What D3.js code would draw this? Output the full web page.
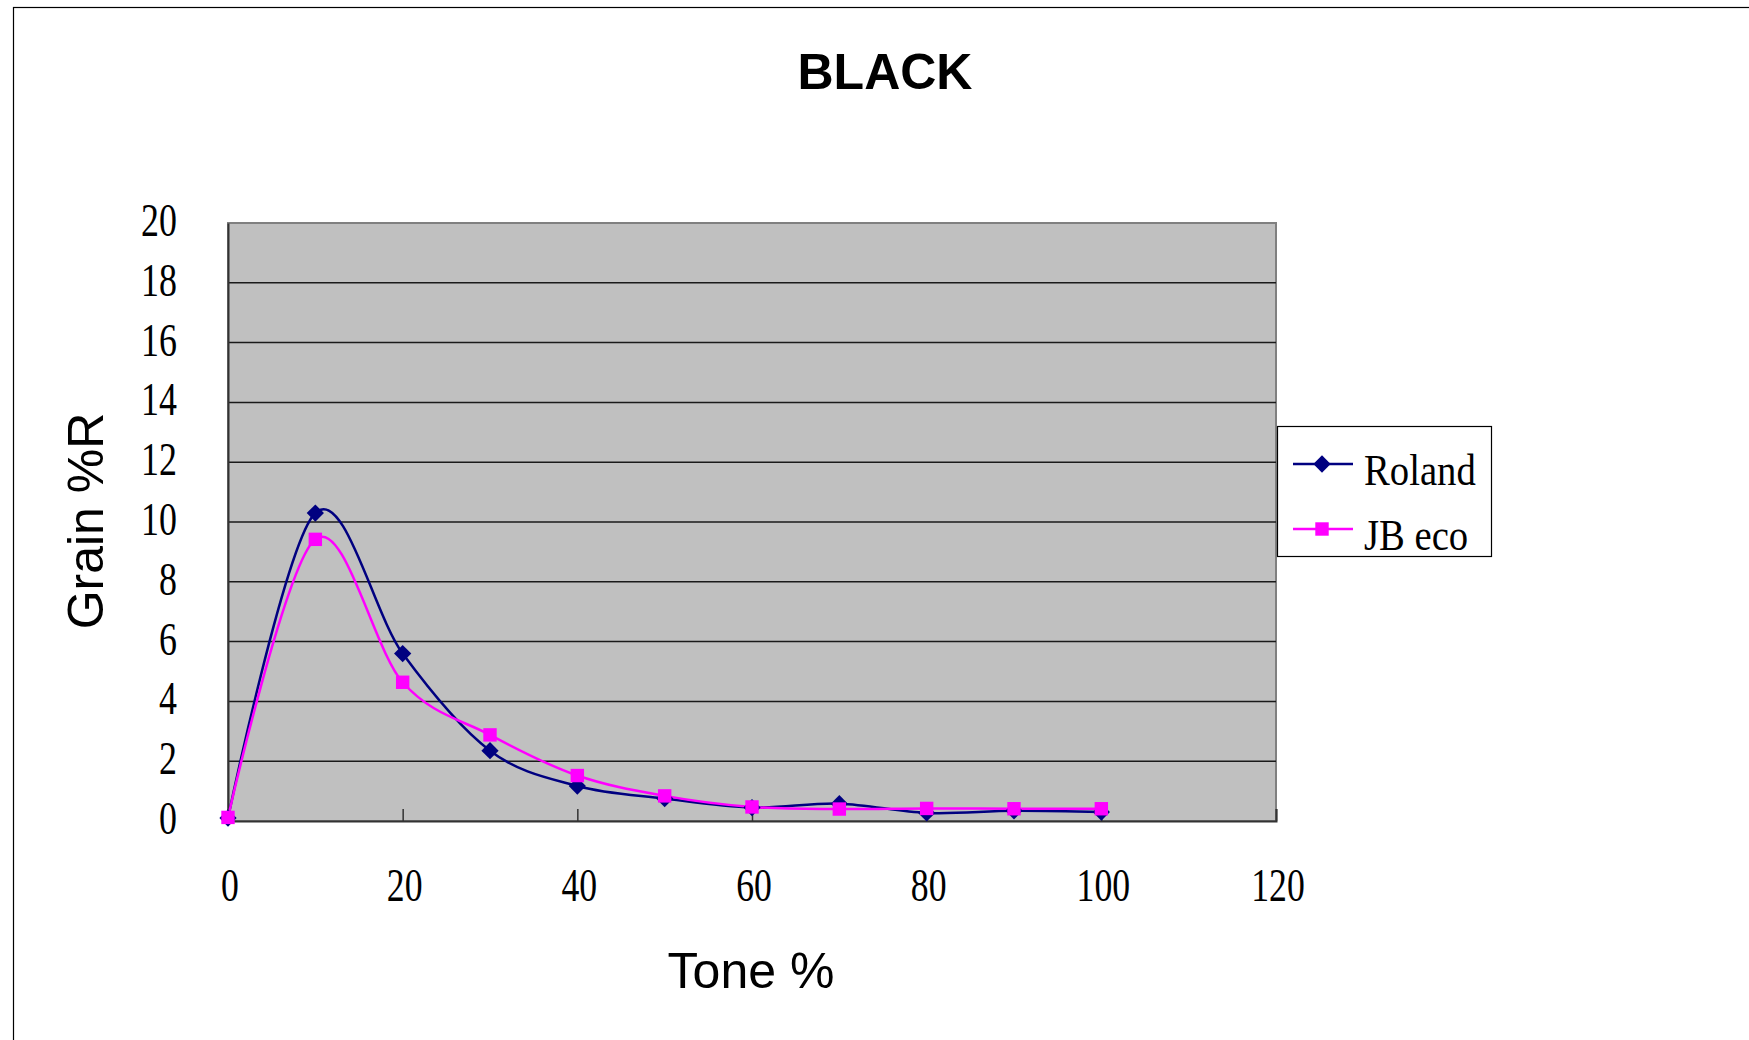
<!DOCTYPE html>
<html>
<head>
<meta charset="utf-8">
<script src="https://cdn.jsdelivr.net/npm/d3@7"></script>
<style>
  html, body { margin: 0; padding: 0; background: #fff; }
  svg { display: block; }
</style>
</head>
<body>
<svg id="chart" width="1749" height="1040"></svg>
<script>
// ---- data ----
const tones = [0, 10, 20, 30, 40, 50, 60, 70, 80, 90, 100];
const roland = [0.1, 10.3, 5.6, 2.35, 1.17, 0.75, 0.45, 0.58, 0.27, 0.34, 0.3];
const jbEco  = [0.12, 9.42, 4.64, 2.88, 1.52, 0.84, 0.47, 0.4, 0.42, 0.41, 0.41];
const seriesNames = ["Roland", "JB eco"];
const xTicks = [0, 20, 40, 60, 80, 100, 120];
const yTicks = [0, 2, 4, 6, 8, 10, 12, 14, 16, 18, 20];
const chartTitle = "BLACK";
const xTitle = "Tone %";
const yTitle = "Grain %R";

// ---- layout ----
const svg = d3.select("#chart");
const W = 1749, H = 1040;
const plot = { left: 228, top: 223, right: 1276, bottom: 821 };

const x = d3.scaleLinear().domain([0, 120]).range([plot.left, plot.right]);
const y = d3.scaleLinear().domain([0, 20]).range([plot.bottom, plot.top]);

// outer chart area border (extends beyond the window right/bottom)
svg.append("rect")
  .attr("x", 13.5).attr("y", 7.5)
  .attr("width", W + 50).attr("height", H + 50)
  .attr("fill", "#fff").attr("stroke", "#000").attr("stroke-width", 1.2);

// plot background
svg.append("rect")
  .attr("x", plot.left).attr("y", plot.top)
  .attr("width", plot.right - plot.left).attr("height", plot.bottom - plot.top)
  .attr("fill", "#c0c0c0").attr("stroke", "#808080").attr("stroke-width", 2);

// gridlines
svg.append("g")
  .selectAll("line")
  .data(yTicks.filter(d => d > 0 && d < 20))
  .join("line")
  .attr("x1", plot.left).attr("x2", plot.right)
  .attr("y1", d => y(d)).attr("y2", d => y(d))
  .attr("stroke", "#1a1a1a").attr("stroke-width", 1.5);

// axes
const xAxis = d3.axisBottom(x).tickValues(xTicks).tickSize(-12).tickFormat("");
const gx = svg.append("g").attr("transform", `translate(0,${plot.bottom})`).call(xAxis);
gx.select(".domain").attr("stroke", "#333").attr("stroke-width", 2);
gx.selectAll(".tick line").attr("stroke", "#333").attr("stroke-width", 1.5);

const yAxis = d3.axisLeft(y).tickValues(yTicks).tickSize(0).tickFormat("");
const gy = svg.append("g").attr("transform", `translate(${plot.left},0)`).call(yAxis);
gy.select(".domain").attr("stroke", "#333").attr("stroke-width", 2);

// tick labels (condensed serif)
const tickFont = "'Liberation Serif', 'Times New Roman', serif";
svg.append("g").selectAll("text")
  .data(yTicks)
  .join("text")
  .attr("transform", d => `translate(177,${y(d) + 13}) scale(0.78,1)`)
  .attr("text-anchor", "end")
  .attr("font-family", tickFont).attr("font-size", 46)
  .attr("fill", "#000")
  .text(d => d);

svg.append("g").selectAll("text")
  .data(xTicks)
  .join("text")
  .attr("transform", d => `translate(${x(d) + 2},901) scale(0.76,1)`)
  .attr("text-anchor", "middle")
  .attr("font-family", tickFont).attr("font-size", 47)
  .attr("fill", "#000")
  .text(d => d);

// titles
const sans = "'Liberation Sans', Arial, sans-serif";
svg.append("text")
  .attr("x", 885).attr("y", 89)
  .attr("text-anchor", "middle")
  .attr("font-family", sans).attr("font-weight", "bold").attr("font-size", 50)
  .text(chartTitle);

svg.append("text")
  .attr("x", 751).attr("y", 988)
  .attr("text-anchor", "middle")
  .attr("font-family", sans).attr("font-size", 50)
  .text(xTitle);

svg.append("text")
  .attr("transform", "translate(103,521) rotate(-90)")
  .attr("text-anchor", "middle")
  .attr("font-family", sans).attr("font-size", 50)
  .text(yTitle);

// series
const series = [
  { name: seriesNames[0], values: roland, color: "#000080", marker: "diamond" },
  { name: seriesNames[1], values: jbEco, color: "#ff00ff", marker: "square" }
];

const line = d3.line()
  .x(d => x(d[0])).y(d => y(d[1]))
  .curve(d3.curveCatmullRom.alpha(0));

const diamond = d3.symbol().type(d3.symbolDiamond2).size(190);
const square = d3.symbol().type(d3.symbolSquare).size(180);

series.forEach(s => {
  const pts = tones.map((t, i) => [t, s.values[i]]);
  svg.append("path")
    .datum(pts)
    .attr("d", line)
    .attr("fill", "none")
    .attr("stroke", s.color)
    .attr("stroke-width", 2.5);
});
series.forEach(s => {
  const pts = tones.map((t, i) => [t, s.values[i]]);
  svg.append("g").selectAll("path")
    .data(pts)
    .join("path")
    .attr("transform", d => `translate(${x(d[0])},${y(d[1])})`)
    .attr("d", s.marker === "diamond" ? diamond : square)
    .attr("fill", s.color);
});

// legend
const legend = svg.append("g");
legend.append("rect")
  .attr("x", 1277.5).attr("y", 426.5)
  .attr("width", 214).attr("height", 130)
  .attr("fill", "#fff").attr("stroke", "#000").attr("stroke-width", 1.2);

const legendRows = [464, 529];
series.forEach((s, i) => {
  const ly = legendRows[i];
  legend.append("line")
    .attr("x1", 1293).attr("x2", 1353)
    .attr("y1", ly).attr("y2", ly)
    .attr("stroke", s.color).attr("stroke-width", 2.5);
  legend.append("path")
    .attr("transform", `translate(1322,${ly})`)
    .attr("d", s.marker === "diamond" ? diamond : square)
    .attr("fill", s.color);
  legend.append("text")
    .attr("transform", `translate(1364,${ly + 21}) scale(0.86,1)`)
    .attr("font-family", tickFont).attr("font-size", 45)
    .attr("fill", "#000")
    .text(s.name);
});
</script>
</body>
</html>
